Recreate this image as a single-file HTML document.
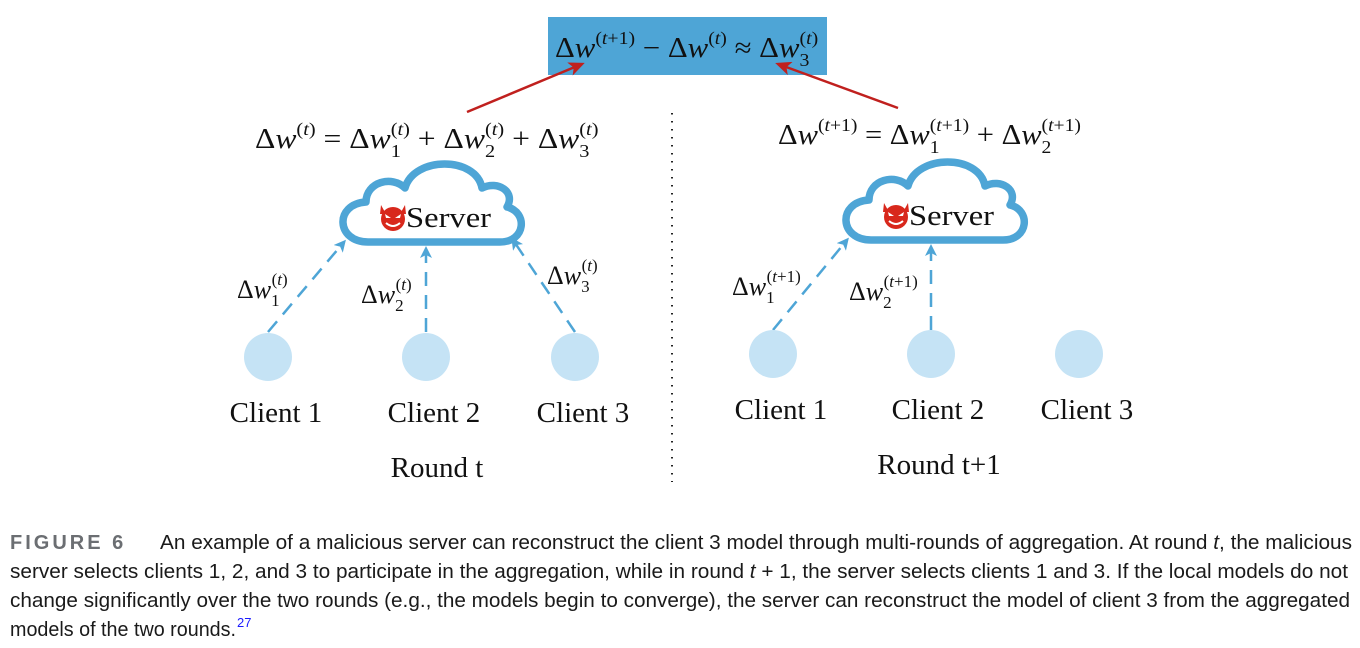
<!DOCTYPE html>
<html><head><meta charset="utf-8"><style>
html,body{margin:0;padding:0;background:#fff;}
svg{display:block;}
.m{font-family:"Liberation Serif",serif;fill:#111;}
.cap{font-family:"Liberation Sans",sans-serif;fill:#1a1a1a;font-size:20px;}
</style></head><body>
<svg width="1360" height="648" viewBox="0 0 1360 648" xmlns="http://www.w3.org/2000/svg">
<defs>
<marker id="ra" markerWidth="16" markerHeight="14" refX="13" refY="7" orient="auto" markerUnits="userSpaceOnUse" viewBox="0 0 16 14"><path d="M0,0 L16,7 L0,14 L4,7 Z" fill="#c0201e"/></marker>
<marker id="ba" markerWidth="12" markerHeight="12" refX="9" refY="6" orient="auto" markerUnits="userSpaceOnUse" viewBox="0 0 12 12"><path d="M0,0 L12,6 L0,12 L3,6 Z" fill="#4ea5d6"/></marker>
<g id="cloud">
<path d="M368 242 C336 242 334 204 366 202 C366 182 392 175 405 188 C414 156 476 156 482 188 C498 180 516 192 507 207 C528 212 526 242 500 242 Z" fill="#fff" stroke="#4ea5d6" stroke-width="7.5" stroke-linejoin="round"/>
<g>
<path d="M381 205 L386 214 L380 214 Z M405 205 L400 214 L406 214 Z" fill="#d8281c"/>
<circle cx="393" cy="219" r="12" fill="#d8281c"/>
<path d="M385 214 L391 218 L386 218 Z M401 214 L395 218 L400 218 Z" fill="#fff"/>
<path d="M386 223 Q393 229 400 223" stroke="#fff" stroke-width="2" fill="none"/>
</g>
<text x="406" y="227" class="m" font-size="28" textLength="85" lengthAdjust="spacingAndGlyphs">Server</text>
</g>
</defs>

<rect x="548" y="17" width="279" height="58" fill="#4ea5d6"/>
<g transform="translate(555,57) scale(1.1,1)">
<text x="0" y="0" class="m" font-size="28">Δ<tspan font-style="italic">w</tspan><tspan font-size="18" dy="-13">(<tspan font-style="italic">t</tspan>+1)</tspan><tspan dy="13"> − Δ</tspan><tspan font-style="italic">w</tspan><tspan font-size="18" dy="-13">(<tspan font-style="italic">t</tspan>)</tspan><tspan dy="13"> ≈ Δ</tspan><tspan font-style="italic">w</tspan><tspan font-size="18" dy="9">3</tspan><tspan font-size="18" dx="-9" dy="-22">(<tspan font-style="italic">t</tspan>)</tspan></text>
</g>

<line x1="467" y1="112" x2="582" y2="64" stroke="#c0201e" stroke-width="2.5" marker-end="url(#ra)"/>
<line x1="898" y1="108" x2="778" y2="64" stroke="#c0201e" stroke-width="2.5" marker-end="url(#ra)"/>

<g transform="translate(255,148) scale(1.13,1)">
<text x="0" y="0" class="m" font-size="28">Δ<tspan font-style="italic">w</tspan><tspan font-size="18" dy="-13">(<tspan font-style="italic">t</tspan>)</tspan><tspan dy="13"> = Δ</tspan><tspan font-style="italic">w</tspan><tspan font-size="18" dy="9">1</tspan><tspan font-size="18" dx="-9" dy="-22">(<tspan font-style="italic">t</tspan>)</tspan><tspan dy="13"> + Δ</tspan><tspan font-style="italic">w</tspan><tspan font-size="18" dy="9">2</tspan><tspan font-size="18" dx="-9" dy="-22">(<tspan font-style="italic">t</tspan>)</tspan><tspan dy="13"> + Δ</tspan><tspan font-style="italic">w</tspan><tspan font-size="18" dy="9">3</tspan><tspan font-size="18" dx="-9" dy="-22">(<tspan font-style="italic">t</tspan>)</tspan></text>
</g>
<g transform="translate(778,144) scale(1.09,1)">
<text x="0" y="0" class="m" font-size="28">Δ<tspan font-style="italic">w</tspan><tspan font-size="18" dy="-13">(<tspan font-style="italic">t</tspan>+1)</tspan><tspan dy="13"> = Δ</tspan><tspan font-style="italic">w</tspan><tspan font-size="18" dy="9">1</tspan><tspan font-size="18" dx="-9" dy="-22">(<tspan font-style="italic">t</tspan>+1)</tspan><tspan dy="13"> + Δ</tspan><tspan font-style="italic">w</tspan><tspan font-size="18" dy="9">2</tspan><tspan font-size="18" dx="-9" dy="-22">(<tspan font-style="italic">t</tspan>+1)</tspan></text>
</g>

<line x1="672" y1="113" x2="672" y2="482" stroke="#222" stroke-width="2" stroke-dasharray="1.5,6.5"/>

<use href="#cloud"/>
<use href="#cloud" transform="translate(503,-2)"/>

<g stroke="#4ea5d6" stroke-width="2.5" stroke-dasharray="14,9" fill="none">
<line x1="268" y1="332" x2="344" y2="242" marker-end="url(#ba)"/>
<line x1="426" y1="332" x2="426" y2="249" marker-end="url(#ba)"/>
<line x1="575" y1="332" x2="513" y2="240" marker-end="url(#ba)"/>
<line x1="773" y1="330" x2="847" y2="240" marker-end="url(#ba)"/>
<line x1="931" y1="330" x2="931" y2="247" marker-end="url(#ba)"/>
</g>

<g class="m" font-size="26">
<text x="237" y="298">Δ<tspan font-style="italic">w</tspan><tspan font-size="17" dy="8">1</tspan><tspan font-size="17" dx="-8" dy="-21">(<tspan font-style="italic">t</tspan>)</tspan></text>
<text x="361" y="303">Δ<tspan font-style="italic">w</tspan><tspan font-size="17" dy="8">2</tspan><tspan font-size="17" dx="-8" dy="-21">(<tspan font-style="italic">t</tspan>)</tspan></text>
<text x="547" y="284">Δ<tspan font-style="italic">w</tspan><tspan font-size="17" dy="8">3</tspan><tspan font-size="17" dx="-8" dy="-21">(<tspan font-style="italic">t</tspan>)</tspan></text>
<text x="732" y="295">Δ<tspan font-style="italic">w</tspan><tspan font-size="17" dy="8">1</tspan><tspan font-size="17" dx="-8" dy="-21">(<tspan font-style="italic">t</tspan>+1)</tspan></text>
<text x="849" y="300">Δ<tspan font-style="italic">w</tspan><tspan font-size="17" dy="8">2</tspan><tspan font-size="17" dx="-8" dy="-21">(<tspan font-style="italic">t</tspan>+1)</tspan></text>
</g>

<g fill="#c5e3f5">
<circle cx="268" cy="357" r="24"/><circle cx="426" cy="357" r="24"/><circle cx="575" cy="357" r="24"/>
<circle cx="773" cy="354" r="24"/><circle cx="931" cy="354" r="24"/><circle cx="1079" cy="354" r="24"/>
</g>
<g class="m" font-size="29" text-anchor="middle">
<text x="276" y="422">Client 1</text><text x="434" y="422">Client 2</text><text x="583" y="422">Client 3</text>
<text x="781" y="419">Client 1</text><text x="938" y="419">Client 2</text><text x="1087" y="419">Client 3</text>
<text x="437" y="477">Round t</text><text x="939" y="474">Round t+1</text>
</g>

<text x="10" y="549" font-family="Liberation Sans,sans-serif" font-weight="bold" font-size="20" fill="#6b6e72" letter-spacing="3">FIGURE 6</text>
<text x="160" y="549" class="cap" textLength="1192" lengthAdjust="spacingAndGlyphs">An example of a malicious server can reconstruct the client 3 model through multi-rounds of aggregation. At round <tspan font-style="italic">t</tspan>, the malicious</text>
<text x="10" y="578" class="cap" textLength="1338" lengthAdjust="spacingAndGlyphs">server selects clients 1, 2, and 3 to participate in the aggregation, while in round <tspan font-style="italic">t</tspan> + 1, the server selects clients 1 and 3. If the local models do not</text>
<text x="10" y="607" class="cap" textLength="1340" lengthAdjust="spacingAndGlyphs">change significantly over the two rounds (e.g., the models begin to converge), the server can reconstruct the model of client 3 from the aggregated</text>
<text x="10" y="636" class="cap" textLength="226" lengthAdjust="spacingAndGlyphs">models of the two rounds.</text>
<text x="237" y="627" font-family="Liberation Sans,sans-serif" font-size="13" fill="#1a1aff">27</text>
</svg>
</body></html>
